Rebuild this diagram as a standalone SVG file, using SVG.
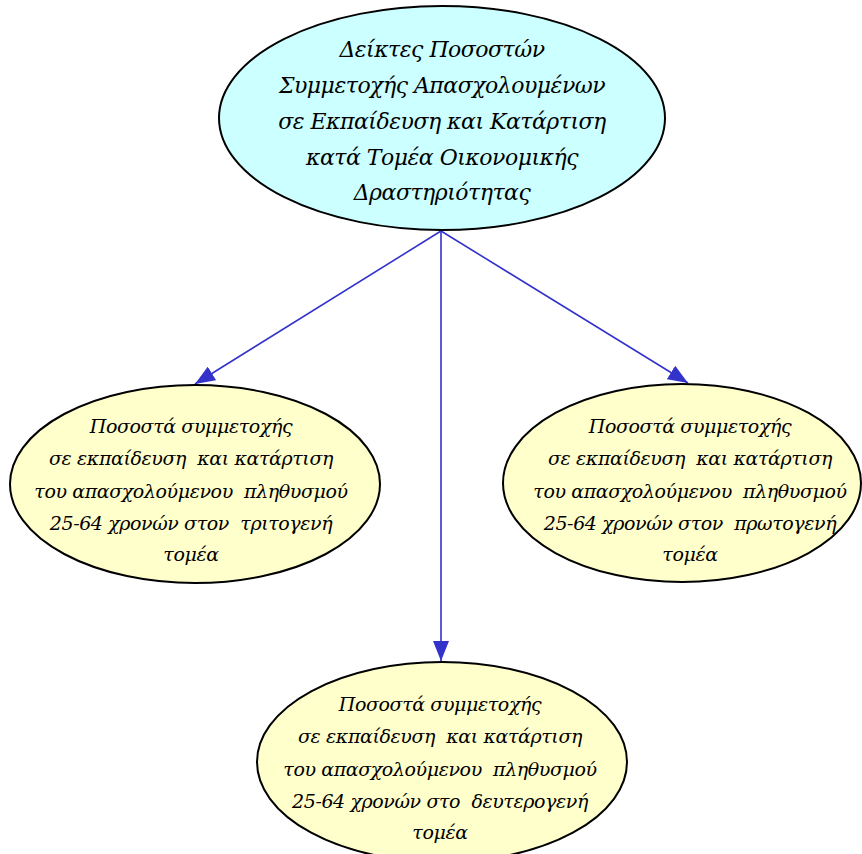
<svg xmlns="http://www.w3.org/2000/svg" width="862" height="854" viewBox="0 0 862 854">
<defs>
<style>
.top{fill:#CCFFFF;stroke:#000;stroke-width:2}
.leaf{fill:#FFFFCC;stroke:#000;stroke-width:2}
text{font-family:"DejaVu Serif","Liberation Serif",serif;font-style:italic;fill:#000;text-anchor:middle;white-space:pre}
.t1{font-size:22px;letter-spacing:-0.5px}
.t2{font-size:19px;letter-spacing:-0.4px}
.edge{stroke:#3333CC;stroke-width:1.6;fill:none}
</style>
<marker id="ah" viewBox="0 0 20 16" refX="20" refY="8" markerWidth="20" markerHeight="16" markerUnits="userSpaceOnUse" orient="auto">
<path d="M0,0 L20,8 L0,16 Z" fill="#3333CC"/>
</marker>
</defs>
<rect width="862" height="854" fill="#fff"/>
<g id="connectors">
<line class="edge" x1="441" y1="231" x2="195" y2="384" marker-end="url(#ah)"/>
<line class="edge" x1="441" y1="231" x2="688" y2="383" marker-end="url(#ah)"/>
<line class="edge" x1="441" y1="231" x2="441" y2="661" marker-end="url(#ah)"/>
</g>
<g id="root">
<ellipse class="top" cx="442" cy="118" rx="223" ry="112"/>
<text class="t1" x="442" y="57">Δείκτες Ποσοστών</text>
<text class="t1" x="442" y="93">Συμμετοχής Απασχολουμένων</text>
<text class="t1" x="442" y="129">σε Εκπαίδευση και Κατάρτιση</text>
<text class="t1" x="442" y="165">κατά Τομέα Οικονομικής</text>
<text class="t1" x="442" y="200">Δραστηριότητας</text>
</g>
<g id="tertiary">
<ellipse class="leaf" cx="195" cy="484" rx="185" ry="99"/>
<text class="t2" x="191" y="433">Ποσοστά συμμετοχής</text>
<text class="t2" x="191" y="465">σε εκπαίδευση  και κατάρτιση</text>
<text class="t2" x="191" y="498">του απασχολούμενου  πληθυσμού</text>
<text class="t2" x="191" y="530">25-64 χρονών στον  τριτογενή</text>
<text class="t2" x="191" y="561">τομέα</text>
</g>
<g id="primary">
<ellipse class="leaf" cx="682" cy="483" rx="179" ry="99"/>
<text class="t2" x="690" y="433">Ποσοστά συμμετοχής</text>
<text class="t2" x="690" y="465">σε εκπαίδευση  και κατάρτιση</text>
<text class="t2" x="690" y="498">του απασχολούμενου  πληθυσμού</text>
<text class="t2" x="690" y="530">25-64 χρονών στον  πρωτογενή</text>
<text class="t2" x="690" y="561">τομέα</text>
</g>
<g id="secondary">
<ellipse class="leaf" cx="442" cy="762" rx="185" ry="100"/>
<text class="t2" x="440" y="711">Ποσοστά συμμετοχής</text>
<text class="t2" x="440" y="743">σε εκπαίδευση  και κατάρτιση</text>
<text class="t2" x="440" y="776">του απασχολούμενου  πληθυσμού</text>
<text class="t2" x="440" y="808">25-64 χρονών στο  δευτερογενή</text>
<text class="t2" x="440" y="839">τομέα</text>
</g>
</svg>
